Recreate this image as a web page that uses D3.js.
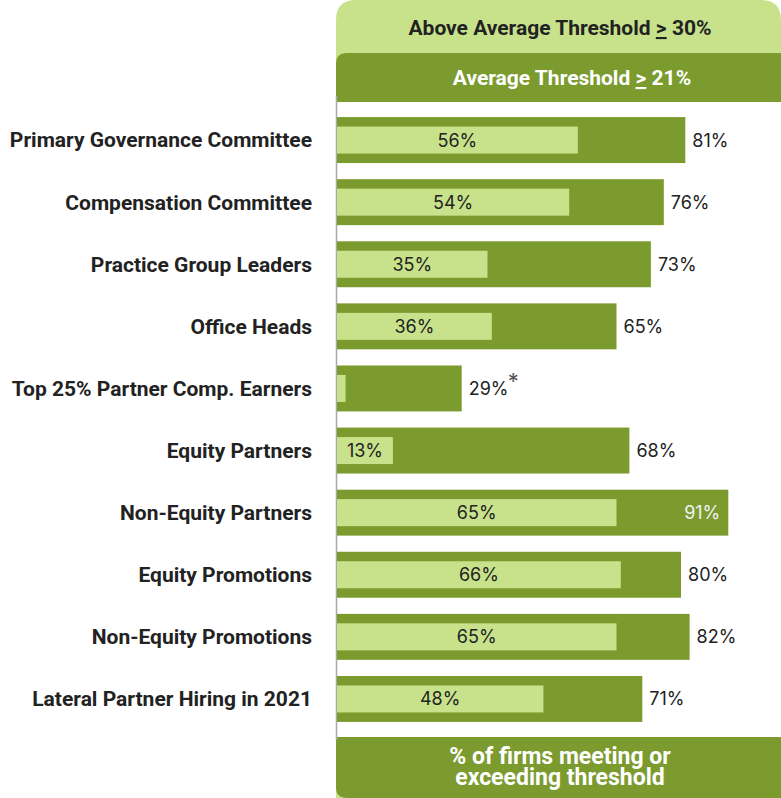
<!DOCTYPE html>
<html><head><meta charset="utf-8">
<script src="https://cdn.jsdelivr.net/npm/d3@7"></script>
<style>
html,body{margin:0;padding:0;background:#fff;}
svg{display:block;}
</style></head>
<body>
<svg id="chart" width="781" height="798"></svg>
<script>
const categories = ["Primary Governance Committee","Compensation Committee","Practice Group Leaders","Office Heads","Top 25% Partner Comp. Earners","Equity Partners","Non-Equity Partners","Equity Promotions","Non-Equity Promotions","Lateral Partner Hiring in 2021"];
const averageValues = [81,76,73,65,29,68,91,80,82,71];
const aboveAverageValues = [56,54,35,36,2,13,65,66,65,48];
const showInnerLabel = [true,true,true,true,false,true,true,true,true,true];
const asteriskFlags = [false,false,false,false,true,false,false,false,false,false];
const topHeader = "Above Average Threshold ";
const topValue = " 30%";
const midHeader = "Average Threshold ";
const midValue = " 21%";
const footerLines = ["% of firms meeting or","exceeding threshold"];

const dark = "#7b9b2f", light = "#c8e28b";
const svg = d3.select("#chart");
const W = 781, H = 798;
const panelX = 336;

svg.append("path")
  .attr("d", `M${panelX},${H} L${panelX},20 Q${panelX},0 ${panelX+20},0 L${W-20},0 Q${W},0 ${W},20 L${W},${H} Z`)
  .attr("fill", light);
svg.append("rect").attr("x", panelX).attr("y", 102).attr("width", W-panelX).attr("height", 636).attr("fill","#fff");
svg.append("path")
  .attr("d", `M${panelX},102 L${panelX},64 Q${panelX},53 ${panelX+11},53 L${W},53 L${W},102 Z`)
  .attr("fill", dark);
svg.append("path")
  .attr("d", `M${panelX},737 L${W},737 L${W},${H} L${panelX+11},${H} Q${panelX},${H} ${panelX},${H-11} Z`)
  .attr("fill", dark);
svg.append("line").attr("x1", panelX+0.5).attr("x2", panelX+0.5).attr("y1", 96).attr("y2", 740)
  .attr("stroke", "#a9a9a9").attr("stroke-width", 1.5);

function headerText(x, y, a, b, color){
  const t = svg.append("text").attr("x", x).attr("y", y).attr("text-anchor","middle")
    .attr("font-family","Roboto").attr("font-weight","700").attr("font-size",21).attr("fill",color);
  t.append("tspan").text(a);
  t.append("tspan").attr("text-decoration","underline").text(">");
  t.append("tspan").text(b);
}
headerText(560, 35, topHeader, topValue, "#222");
headerText(572, 85, midHeader, midValue, "#fff");

svg.append("text").attr("x", 560).attr("text-anchor","middle")
  .attr("font-family","Roboto").attr("font-weight","700").attr("font-size",23).attr("fill","#fff")
  .selectAll("tspan").data(footerLines).join("tspan")
  .attr("x", 560).attr("y", (d,i)=>764 + i*21).text(d=>d);

const x = d3.scaleLinear().domain([0,100]).range([337, 337+430]);
const y = d3.scaleBand().domain(categories).range([109, 730]).paddingInner(0.26).paddingOuter(0.13);

const rows = svg.append("g").selectAll("g").data(categories).join("g");
const bw = y.bandwidth();

rows.append("rect")
  .attr("x", x(0)).attr("y", d=>y(d))
  .attr("width", (d,i)=>x(averageValues[i])-x(0)).attr("height", bw)
  .attr("fill", dark);
const innerH = 27;
rows.append("rect")
  .attr("x", x(0)).attr("y", d=>y(d)+(bw-innerH)/2)
  .attr("width", (d,i)=>x(aboveAverageValues[i])-x(0)).attr("height", innerH)
  .attr("fill", light);

rows.append("text")
  .attr("x", 312).attr("y", d=>y(d)+bw/2).attr("dy","0.35em")
  .attr("text-anchor","end").attr("font-family","Roboto").attr("font-weight","700")
  .attr("font-size",21).attr("fill","#222").text(d=>d);

rows.filter((d,i)=>showInnerLabel[i]).append("text")
  .attr("x", d=>{const i=categories.indexOf(d); return (x(0)+x(aboveAverageValues[i]))/2;})
  .attr("y", d=>y(d)+bw/2).attr("dy","0.36em")
  .attr("text-anchor","middle").attr("font-family","Inter").attr("font-size",18)
  .attr("fill","#222").text(d=>aboveAverageValues[categories.indexOf(d)]+"%");

rows.append("text")
  .attr("x", (d,i)=> averageValues[i] > 88 ? x(averageValues[i]) - 8 : x(averageValues[i]) + 7)
  .attr("y", d=>y(d)+bw/2).attr("dy","0.36em")
  .attr("text-anchor", (d,i)=> averageValues[i] > 88 ? "end" : "start")
  .attr("font-family","Inter").attr("font-size",18)
  .attr("fill", (d,i)=> averageValues[i] > 88 ? "#f2f2f2" : "#222")
  .text((d,i)=>averageValues[i]+"%");

rows.filter((d,i)=>asteriskFlags[i]).append("text")
  .attr("x", (d)=>x(averageValues[categories.indexOf(d)]) + 46)
  .attr("y", d=>y(d)+bw/2 + 1)
  .attr("font-family","Inter").attr("font-size",22).attr("fill","#555").text("*");
</script>
</body></html>
